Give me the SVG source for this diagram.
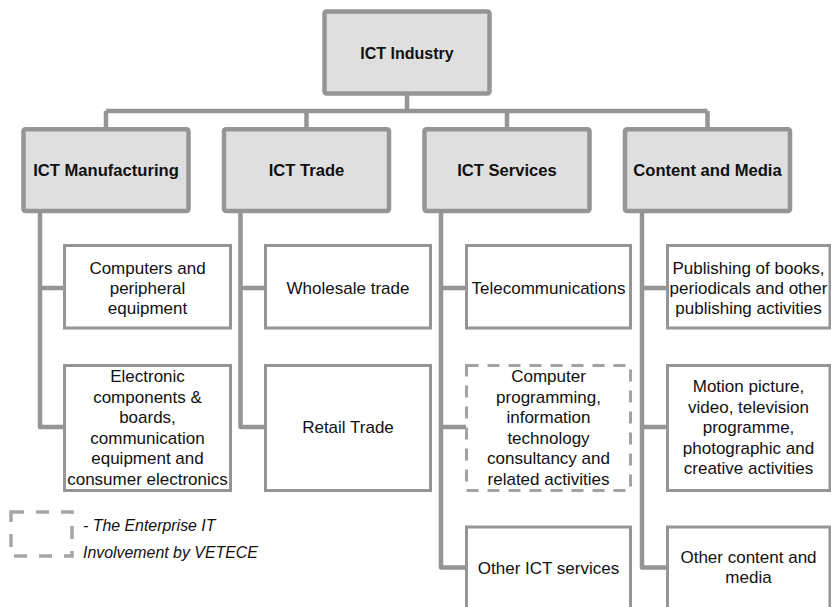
<svg xmlns="http://www.w3.org/2000/svg" width="831" height="607" viewBox="0 0 831 607">
<style>
.hdr{fill:#dfdfe0;stroke:#959595;stroke-width:4.5}
.box{fill:#ffffff;stroke:#959595;stroke-width:3}
.dash{fill:#ffffff;stroke:#a3a3a3;stroke-width:3;stroke-dasharray:12 9}
.lg{fill:none;stroke:#a6a6a6;stroke-width:3.5;stroke-dasharray:13 12}
.con{fill:none;stroke:#959595;stroke-width:4.5;stroke-linejoin:round}
text{font-family:"Liberation Sans",Arial,sans-serif;fill:#111;text-anchor:middle}
.b{font-weight:bold;font-size:16.6px}
.t{font-size:17px}
.it{font-style:italic;font-size:15.9px;text-anchor:start}
</style>
<rect width="831" height="607" fill="#ffffff"/>
<g id="connectors">
<path class="con" d="M407 95 V111 M106 111 H707.5 M106 111 V127 M306.5 111 V127 M507 111 V127 M707.5 111 V127"/>
<path class="con" d="M40 213 V427 H64 M40 288 H64"/>
<path class="con" d="M240.5 213 V427 H265 M240.5 288 H265"/>
<path class="con" d="M441 213 V567.5 H466 M441 288 H466 M441 427 H466"/>
<path class="con" d="M642 213 V567.5 H667 M642 288 H667 M642 427 H667"/>
</g>
<g id="ict-industry">
<rect class="hdr" x="324.5" y="11.5" width="165" height="82" rx="2"/>
<text class="b" x="407" y="58.5" style="font-size:16px">ICT Industry</text>
</g>
<g id="ict-manufacturing">
<rect class="hdr" x="23.5" y="129.3" width="165" height="81.7" rx="2"/>
<text class="b" x="106" y="176">ICT Manufacturing</text>
</g>
<g id="ict-trade">
<rect class="hdr" x="224" y="129.3" width="165" height="81.7" rx="2"/>
<text class="b" x="306.5" y="176">ICT Trade</text>
</g>
<g id="ict-services">
<rect class="hdr" x="424.5" y="129.3" width="165" height="81.7" rx="2"/>
<text class="b" x="507" y="176">ICT Services</text>
</g>
<g id="content-media">
<rect class="hdr" x="625" y="129.3" width="165" height="81.7" rx="2"/>
<text class="b" x="707.5" y="176">Content and Media</text>
</g>
<g id="computers">
<rect class="box" x="64.5" y="245.5" width="166" height="82.5"/>
<text class="t" x="147.5" y="273.5">Computers and</text>
<text class="t" x="147.5" y="294">peripheral</text>
<text class="t" x="147.5" y="314">equipment</text>
</g>
<g id="electronic">
<rect class="box" x="64.5" y="365.5" width="166" height="125"/>
<text class="t" x="147.5" y="382">Electronic</text>
<text class="t" x="147.5" y="402.5">components &amp;</text>
<text class="t" x="147.5" y="423">boards,</text>
<text class="t" x="147.5" y="443.5">communication</text>
<text class="t" x="147.5" y="464">equipment and</text>
<text class="t" x="147.5" y="484.5">consumer electronics</text>
</g>
<g id="wholesale">
<rect class="box" x="265.5" y="245.5" width="165" height="82.5"/>
<text class="t" x="348" y="294">Wholesale trade</text>
</g>
<g id="retail">
<rect class="box" x="265.5" y="365.5" width="165" height="125"/>
<text class="t" x="348" y="433">Retail Trade</text>
</g>
<g id="telecom">
<rect class="box" x="466.5" y="245.5" width="164" height="82.5"/>
<text class="t" x="548.5" y="294">Telecommunications</text>
</g>
<g id="computer-programming">
<rect class="dash" x="466.5" y="365.5" width="164" height="125"/>
<text class="t" x="548.5" y="382">Computer</text>
<text class="t" x="548.5" y="402.5">programming,</text>
<text class="t" x="548.5" y="423">information</text>
<text class="t" x="548.5" y="443.5">technology</text>
<text class="t" x="548.5" y="464">consultancy and</text>
<text class="t" x="548.5" y="484.5">related activities</text>
</g>
<g id="other-ict">
<rect class="box" x="466.5" y="527" width="164" height="100"/>
<text class="t" x="548.5" y="573.5">Other ICT services</text>
</g>
<g id="publishing">
<rect class="box" x="667.5" y="245.5" width="162.5" height="82.5"/>
<text class="t" x="748.5" y="273.5">Publishing of books,</text>
<text class="t" x="748.5" y="294">periodicals and other</text>
<text class="t" x="748.5" y="314">publishing activities</text>
</g>
<g id="motion">
<rect class="box" x="667.5" y="365.5" width="162.5" height="125"/>
<text class="t" x="748.5" y="392">Motion picture,</text>
<text class="t" x="748.5" y="412.5">video, television</text>
<text class="t" x="748.5" y="433">programme,</text>
<text class="t" x="748.5" y="453.5">photographic and</text>
<text class="t" x="748.5" y="474">creative activities</text>
</g>
<g id="other-content">
<rect class="box" x="667.5" y="527" width="162.5" height="100"/>
<text class="t" x="748.5" y="562.5">Other content and</text>
<text class="t" x="748.5" y="583">media</text>
</g>
<g id="legend">
<rect class="lg" x="11" y="512" width="61" height="44"/>
<text class="it" x="83" y="530.5">- The Enterprise IT</text>
<text class="it" x="83" y="557.5">Involvement by VETECE</text>
</g>
</svg>
